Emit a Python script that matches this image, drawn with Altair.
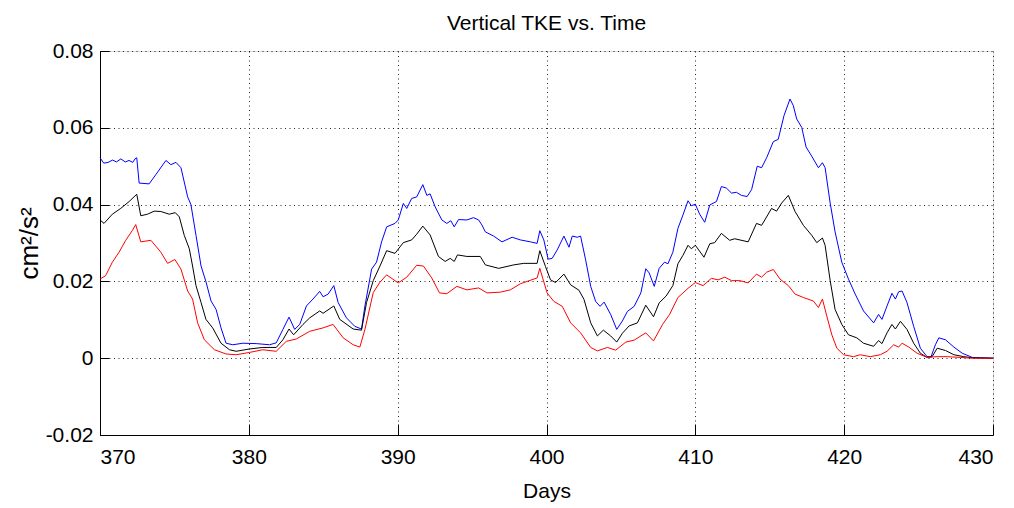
import altair as alt
import pandas as pd

TITLE = "Vertical TKE vs. Time"
X_TITLE = "Days"
Y_TITLE = "cm²/s²"
X_TICKS = [370, 380, 390, 400, 410, 420, 430]
Y_TICKS = [-0.02, 0.0, 0.02, 0.04, 0.06, 0.08]
SERIES = ["upper", "mean", "lower"]
COLORS = ["#0000ff", "#000000", "#ff0000"]

BLUE_DAYS = [370.0, 370.25, 370.55, 370.85, 371.1, 371.4, 371.7, 371.95, 372.2, 372.35, 372.47, 372.63,
             373.3, 373.75, 374.43, 374.76, 375.1, 375.44, 375.89, 376.11, 376.45, 376.79, 377.12, 377.46,
             377.8, 378.13, 378.47, 378.92, 379.6, 380.49, 381.39, 381.84, 382.29, 382.7, 383.08, 383.42,
             383.87, 384.31, 384.76, 384.99, 385.33, 385.71, 386.0, 386.56, 387.12, 387.57, 387.8, 388.25,
             388.58, 388.92, 389.26, 389.82, 390.04, 390.38, 390.61, 390.94, 391.28, 391.69, 391.96, 392.18,
             392.52, 392.97, 393.3, 393.57, 393.8, 394.09, 394.65, 395.1, 395.44, 395.66, 395.89, 396.45,
             397.01, 397.69, 398.25, 398.92, 399.37, 399.55, 399.82, 400.11, 400.38, 400.72, 401.17, 401.51,
             401.73, 402.07, 402.29, 402.63, 402.97, 403.3, 403.6, 403.87, 404.31, 404.72, 405.1, 405.44,
             405.89, 406.34, 406.67, 406.9, 407.24, 407.57, 407.93, 408.16, 408.49, 408.83, 409.17, 409.51,
             409.73, 410.0, 410.29, 410.63, 410.97, 411.42, 411.75, 412.09, 412.43, 412.76, 413.1, 413.48,
             413.78, 414.16, 414.45, 414.79, 415.24, 415.57, 415.96, 416.36, 416.58, 416.81, 417.15, 417.44,
             417.82, 418.27, 418.54, 418.72, 419.06, 419.39, 419.84, 420.29, 420.74, 421.3, 421.98, 422.31,
             422.54, 422.88, 423.21, 423.44, 423.66, 423.89, 424.22, 424.67, 425.12, 425.57, 425.84, 426.13,
             426.36, 426.81, 427.37, 427.93, 428.61, 430.0]
BLUE_VALS = [0.0522, 0.0508, 0.0510, 0.0516, 0.0511, 0.0519, 0.0511, 0.0515, 0.0510, 0.0519, 0.0522, 0.0456,
             0.0454, 0.0478, 0.0515, 0.0504, 0.0510, 0.0496, 0.0420, 0.0400, 0.0320, 0.0240, 0.0199, 0.0149,
             0.0127, 0.0079, 0.0039, 0.0035, 0.0039, 0.0038, 0.0035, 0.0040, 0.0075, 0.0107, 0.0075, 0.0088,
             0.0136, 0.0154, 0.0174, 0.0160, 0.0167, 0.0189, 0.0145, 0.0105, 0.0083, 0.0076, 0.0136, 0.0232,
             0.0250, 0.0303, 0.0342, 0.0351, 0.0360, 0.0403, 0.0390, 0.0416, 0.0420, 0.0452, 0.0424, 0.0428,
             0.0394, 0.0360, 0.0351, 0.0358, 0.0342, 0.0361, 0.0360, 0.0366, 0.0360, 0.0347, 0.0329, 0.0318,
             0.0303, 0.0315, 0.0308, 0.0303, 0.0299, 0.0332, 0.0308, 0.0258, 0.0260, 0.0282, 0.0318, 0.0289,
             0.0318, 0.0315, 0.0318, 0.0256, 0.0187, 0.0148, 0.0135, 0.0146, 0.0114, 0.0075, 0.0097, 0.0122,
             0.0135, 0.0170, 0.0233, 0.0222, 0.0187, 0.0234, 0.0250, 0.0246, 0.0276, 0.0338, 0.0373, 0.0410,
             0.0397, 0.0401, 0.0375, 0.0354, 0.0399, 0.0408, 0.0447, 0.0443, 0.0430, 0.0432, 0.0424, 0.0421,
             0.0439, 0.0500, 0.0496, 0.0522, 0.0564, 0.0570, 0.0632, 0.0675, 0.0658, 0.0623, 0.0601, 0.0550,
             0.0526, 0.0496, 0.0509, 0.0496, 0.0404, 0.0329, 0.0250, 0.0206, 0.0167, 0.0123, 0.0092, 0.0114,
             0.0101, 0.0136, 0.0169, 0.0154, 0.0173, 0.0175, 0.0145, 0.0083, 0.0026, 0.0004, 0.0004, 0.0035,
             0.0053, 0.0048, 0.0029, 0.0013, 0.0002, 0.0]

BLACK_DAYS = [370.0, 370.27, 370.83, 371.39, 371.96, 372.47, 372.74, 373.19, 373.64, 374.09, 374.65, 375.06,
              375.33, 375.66, 376.0, 376.22, 376.45, 376.79, 377.12, 377.57, 378.13, 378.7, 379.15, 380.04,
              380.94, 381.84, 382.29, 382.7, 383.01, 383.64, 384.09, 384.76, 384.99, 385.71, 386.11, 387.01,
              387.57, 387.91, 388.36, 388.81, 389.26, 389.82, 390.38, 390.94, 391.28, 391.69, 392.18, 392.74,
              393.19, 393.53, 393.8, 394.02, 394.65, 395.55, 395.89, 396.79, 397.8, 398.47, 399.37, 399.55,
              399.93, 400.27, 400.61, 401.17, 401.62, 402.18, 402.52, 402.97, 403.42, 403.82, 404.31, 404.72,
              405.1, 405.55, 406.11, 406.67, 407.19, 407.57, 408.04, 408.49, 408.83, 409.17, 409.51, 409.73,
              410.0, 410.58, 410.97, 411.3, 411.75, 412.31, 412.65, 413.55, 414.11, 414.45, 414.67, 415.12,
              415.46, 415.8, 416.25, 416.7, 417.26, 417.82, 418.16, 418.54, 418.72, 419.06, 419.39, 419.84,
              420.29, 420.85, 421.3, 421.98, 422.31, 422.54, 422.88, 423.21, 423.44, 423.78, 424.22, 424.67,
              425.12, 425.57, 425.91, 426.25, 426.81, 427.37, 428.04, 428.61, 430.0]
BLACK_VALS = [0.0360, 0.0351, 0.0375, 0.0390, 0.0408, 0.0427, 0.0371, 0.0375, 0.0383, 0.0382, 0.0375, 0.0379,
              0.0368, 0.0320, 0.0285, 0.0240, 0.0189, 0.0145, 0.0101, 0.0079, 0.0039, 0.0022, 0.0018, 0.0024,
              0.0028, 0.0028, 0.0048, 0.0076, 0.0061, 0.0088, 0.0105, 0.0123, 0.0117, 0.0136, 0.0101, 0.0076,
              0.0073, 0.0145, 0.0202, 0.0240, 0.0280, 0.0273, 0.0301, 0.0308, 0.0323, 0.0344, 0.0321, 0.0265,
              0.0252, 0.0260, 0.0252, 0.0269, 0.0265, 0.0265, 0.0243, 0.0234, 0.0243, 0.0247, 0.0247, 0.0280,
              0.0239, 0.0204, 0.0197, 0.0219, 0.0191, 0.0177, 0.0153, 0.0092, 0.0058, 0.0073, 0.0058, 0.0042,
              0.0065, 0.0084, 0.0092, 0.0138, 0.0108, 0.0144, 0.0162, 0.0189, 0.0246, 0.0268, 0.0294, 0.0285,
              0.0294, 0.0263, 0.0298, 0.0301, 0.0325, 0.0307, 0.0311, 0.0303, 0.0351, 0.0346, 0.0360, 0.0390,
              0.0383, 0.0404, 0.0424, 0.0382, 0.0346, 0.0320, 0.0301, 0.0313, 0.0294, 0.0202, 0.0127, 0.0088,
              0.0061, 0.0053, 0.0039, 0.0031, 0.0046, 0.0038, 0.0066, 0.0088, 0.0076, 0.0096, 0.0075, 0.0039,
              0.0013, 0.0002, 0.0004, 0.0026, 0.0020, 0.0009, 0.0004, 0.0001, 0.0]

RED_DAYS = [370.0, 370.38, 370.83, 371.28, 371.73, 372.18, 372.4, 372.74, 373.42, 374.09, 374.54, 375.03,
            375.44, 375.89, 376.22, 376.56, 377.01, 377.69, 378.47, 379.15, 380.04, 380.94, 381.84, 382.52,
            383.19, 384.09, 384.99, 385.66, 386.34, 387.01, 387.46, 387.8, 388.36, 388.81, 389.26, 390.04,
            390.61, 391.28, 391.73, 392.29, 392.81, 393.3, 393.98, 394.65, 395.44, 396.0, 396.9, 397.57,
            398.25, 399.37, 399.55, 400.04, 400.49, 401.06, 401.62, 402.29, 402.97, 403.42, 404.09, 404.65,
            405.33, 405.89, 406.67, 407.19, 407.8, 408.27, 408.83, 409.51, 410.0, 410.52, 411.08, 411.53,
            411.98, 412.43, 412.99, 413.55, 414.11, 414.45, 414.79, 415.24, 415.69, 416.25, 416.7, 417.26,
            417.93, 418.27, 418.54, 418.83, 419.17, 419.51, 419.96, 420.63, 421.08, 421.75, 422.43, 422.88,
            423.33, 423.66, 423.89, 424.34, 424.9, 425.57, 426.25, 426.92, 427.82, 428.61, 430.0]
RED_VALS = [0.0206, 0.0215, 0.0250, 0.0276, 0.0307, 0.0333, 0.0348, 0.0303, 0.0307, 0.0276, 0.0247, 0.0257,
            0.0232, 0.0175, 0.0154, 0.0092, 0.0048, 0.0022, 0.0011, 0.0009, 0.0015, 0.0022, 0.0018, 0.0044,
            0.0050, 0.0070, 0.0079, 0.0088, 0.0053, 0.0035, 0.0029, 0.0075, 0.0171, 0.0198, 0.0217, 0.0196,
            0.0211, 0.0242, 0.0240, 0.0209, 0.0170, 0.0168, 0.0187, 0.0178, 0.0183, 0.0170, 0.0172, 0.0178,
            0.0194, 0.0209, 0.0234, 0.0170, 0.0148, 0.0135, 0.0092, 0.0066, 0.0028, 0.0019, 0.0028, 0.0021,
            0.0042, 0.0047, 0.0066, 0.0045, 0.0088, 0.0114, 0.0158, 0.0182, 0.0197, 0.0189, 0.0208, 0.0204,
            0.0211, 0.0202, 0.0202, 0.0196, 0.0219, 0.0211, 0.0224, 0.0231, 0.0206, 0.0189, 0.0167, 0.0158,
            0.0149, 0.0132, 0.0154, 0.0110, 0.0061, 0.0026, 0.0009, 0.0004, 0.0009, 0.0004, 0.0009, 0.0018,
            0.0035, 0.0029, 0.0039, 0.0029, 0.0013, 0.0002, 0.0004, 0.0004, 0.0002, 0.0, 0.0]

frames = []
for name, days, vals in zip(SERIES, [BLUE_DAYS, BLACK_DAYS, RED_DAYS], [BLUE_VALS, BLACK_VALS, RED_VALS]):
    frames.append(pd.DataFrame({"day": days, "value": vals, "series": name}))
df = pd.concat(frames, ignore_index=True)

W, H = 893, 384
FONT = "Liberation Sans, Arial, Helvetica"

x_scale = alt.Scale(domain=[X_TICKS[0], X_TICKS[-1]], nice=False, zero=False)
y_scale = alt.Scale(domain=[Y_TICKS[0], Y_TICKS[-1]], nice=False, zero=False)
color = alt.Color("series:N", scale=alt.Scale(domain=SERIES, range=COLORS), legend=None)

Y_LABEL_EXPR = "datum.value < 0 ? '-' + format(-datum.value, '.2~f') : format(datum.value, '.2~f')"

main = alt.Chart(df).mark_line(strokeWidth=1).encode(
    x=alt.X("day:Q", scale=x_scale, title=X_TITLE,
            axis=alt.Axis(values=X_TICKS, format="d", ticks=False, labelPadding=11,
                          labelFont=FONT, labelFontSize=21, labelColor="#000000",
                          domainColor="#000000", domainWidth=1,
                          grid=True, gridColor="#000000", gridDash=[1, 3.5], gridOpacity=0.85,
                          titleFont=FONT, titleFontSize=21, titleFontWeight="normal",
                          titleColor="#000000", titleBaseline="alphabetic", titleY=62)),
    y=alt.Y("value:Q", scale=y_scale, title=Y_TITLE,
            axis=alt.Axis(values=Y_TICKS, labelExpr=Y_LABEL_EXPR, ticks=False, labelPadding=7,
                          labelFont=FONT, labelFontSize=21, labelColor="#000000",
                          domainColor="#000000", domainWidth=1,
                          grid=True, gridColor="#000000", gridDash=[1, 3.5], gridOpacity=0.85,
                          titleFont=FONT, titleFontSize=26, titleFontWeight="normal",
                          titleColor="#000000", titleAngle=270, titleAlign="center",
                          titleBaseline="alphabetic", titleX=-63, titleY=H / 2)),
    color=color,
    detail="series:N",
)

ticks_layer = alt.Chart(df).mark_line(opacity=0).encode(
    x=alt.X("day:Q", scale=x_scale, title=None,
            axis=alt.Axis(orient="top", offset=-H, values=X_TICKS, labels=False, domain=False,
                          grid=False, ticks=True, tickSize=11, tickColor="#000000", tickWidth=1)),
    y=alt.Y("value:Q", scale=y_scale, title=None,
            axis=alt.Axis(orient="right", offset=-W, values=Y_TICKS, labels=False, domain=False,
                          grid=False, ticks=True, tickSize=9, tickColor="#000000", tickWidth=1)),
    detail="series:N",
)

chart = alt.layer(main, ticks_layer).resolve_axis(x="independent", y="independent").properties(
    width=W, height=H,
    title=alt.TitleParams(TITLE, font=FONT, fontSize=21, fontWeight="normal",
                          color="#000000", anchor="middle", offset=6),
    autosize=alt.AutoSizeParams(type="none"),
    padding={"left": 92, "top": 43, "right": 12, "bottom": 70},
).configure_view(stroke=None).configure(background="#ffffff")

chart.save("out.html", embed_options={"renderer": "svg", "actions": False})
